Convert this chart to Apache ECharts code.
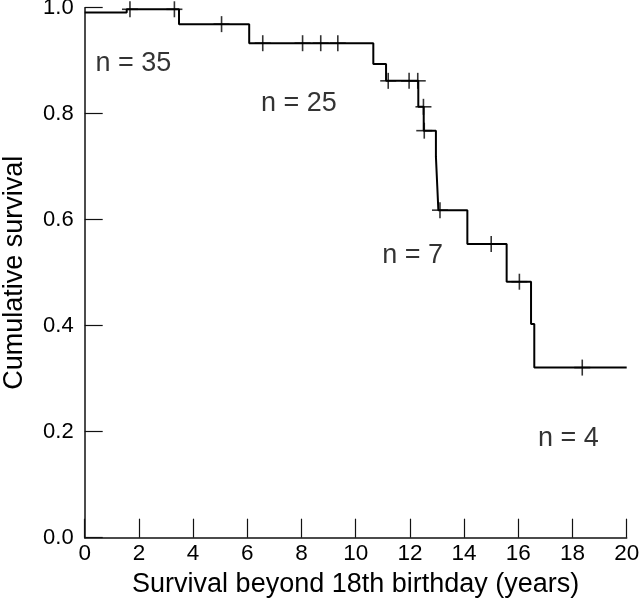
<!DOCTYPE html>
<html>
<head>
<meta charset="utf-8">
<script src="https://cdn.jsdelivr.net/npm/echarts@6/dist/echarts.min.js"></script>
<style>html,body{margin:0;padding:0;background:#fff}#c{width:640px;height:608px}</style>
</head>
<body>
<div id="c"></div>
<script>
// Kaplan-Meier step curve: survival value holding from each time onward
var eventTimes = [0, 1.55, 3.48, 6.07, 10.65, 11.12, 12.31, 12.51, 12.96, 13.01, 13.05, 14.12, 15.57, 16.47, 16.59, 20];
var survival   = [0.991, 0.997, 0.969, 0.933, 0.894, 0.862, 0.813, 0.768, 0.719, 0.663, 0.618, 0.554, 0.483, 0.403, 0.321, 0.321];
// censored observations
var censorTimes = [1.67, 3.31, 5.05, 6.57, 8.04, 8.71, 9.34, 11.2, 11.97, 12.29, 12.5, 12.53, 13.11, 15.0, 16.04, 18.36];
var censorSurv  = [0.997, 0.997, 0.969, 0.933, 0.933, 0.933, 0.933, 0.862, 0.862, 0.862, 0.813, 0.768, 0.618, 0.554, 0.483, 0.321];
// group size annotations
var nLabels = ['n = 35', 'n = 25', 'n = 7', 'n = 4'];
var nX = [1.8, 7.9, 12.1, 17.85];
var nY = [0.895, 0.82, 0.533, 0.188];
var xTicks = [0, 2, 4, 6, 8, 10, 12, 14, 16, 18, 20];
var yTicks = ['0.0', '0.2', '0.4', '0.6', '0.8', '1.0'];

var FONT = '"Liberation Sans", Arial, sans-serif';
var chart = echarts.init(document.getElementById('c'));
var curve = eventTimes.map(function (t, i) { return [t, survival[i]]; });
var cens = censorTimes.map(function (t, i) { return [t, censorSurv[i]]; });
var ann = nLabels.map(function (s, i) { return { value: [nX[i], nY[i]], name: s }; });

chart.setOption({
  animation: false,
  backgroundColor: '#fff',
  grid: { left: 84.7, right: 13.3, top: 7.7, bottom: 70.3, containLabel: false, outerBoundsMode: 'none' },
  xAxis: {
    type: 'value', min: 0, max: 20, interval: 2,
    name: 'Survival beyond 18th birthday (years)', nameLocation: 'middle', nameGap: 31,
    nameTextStyle: { fontFamily: FONT, fontSize: 27, color: '#000' },
    axisLine: { show: true, lineStyle: { color: '#111', width: 1.5 } },
    axisTick: { show: true, inside: true, length: 19, lineStyle: { color: '#111', width: 1.2 } },
    axisLabel: { fontFamily: FONT, fontSize: 22.5, color: '#000', margin: 5,
      formatter: function (v) { return xTicks.indexOf(v) >= 0 ? String(v) : ''; } },
    splitLine: { show: false }
  },
  yAxis: {
    type: 'value', min: 0, max: 1, interval: 0.2,
    name: 'Cumulative survival', nameLocation: 'middle', nameGap: 57,
    nameTextStyle: { fontFamily: FONT, fontSize: 27, color: '#000' },
    axisLine: { show: true, lineStyle: { color: '#111', width: 1.5 } },
    axisTick: { show: true, inside: true, length: 18, lineStyle: { color: '#111', width: 1.2 } },
    axisLabel: { fontFamily: FONT, fontSize: 22, color: '#000', margin: 11,
      formatter: function (v) { return yTicks[Math.round(v * 5)]; } },
    splitLine: { show: false }
  },
  series: [
    { type: 'line', step: 'end', data: curve, showSymbol: false,
      lineStyle: { color: '#000', width: 2 }, z: 3 },
    { type: 'scatter', data: cens, symbol: 'rect', symbolSize: [1.6, 16],
      itemStyle: { color: '#000' }, z: 4 },
    { type: 'scatter', data: cens, symbol: 'rect', symbolSize: [16, 1.6],
      itemStyle: { color: '#000' }, z: 4 },
    { type: 'scatter', data: ann, symbolSize: 0, itemStyle: { color: 'transparent' },
      label: { show: true, position: 'inside', formatter: function (p) { return p.name; },
        fontFamily: FONT, fontSize: 27, color: '#000' }, z: 5 }
  ]
});
</script>
</body>
</html>
